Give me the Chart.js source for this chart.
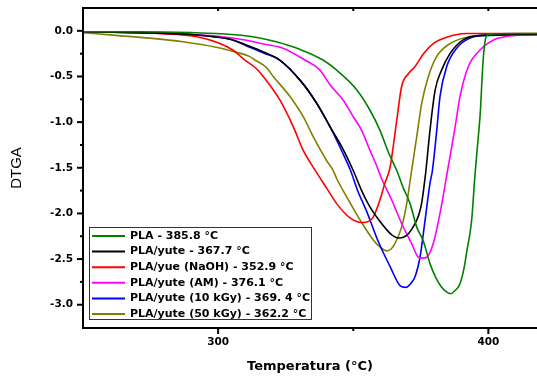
<!DOCTYPE html>
<html>
<head>
<meta charset="utf-8">
<script src="https://cdn.jsdelivr.net/npm/chart.js@4.4.0/dist/chart.umd.min.js"></script>
<style>
  html, body { margin: 0; padding: 0; background: #fff; }
  #wrap { width: 537px; height: 376px; }
</style>
</head>
<body>
<div id="wrap"><canvas id="dtga" width="537" height="376"></canvas></div>
<script>
// valores (temperatura en °C, DTGA)
const tempPLA = [250, 270, 290, 305, 314, 321.5, 330, 338.8, 345, 351.4, 356.2, 359.9, 363, 366.1, 368.5, 371, 373.5, 375.9, 378.4, 380.5, 382.5, 384.5, 386, 387.5, 389.5, 391, 392, 393.8, 395, 396, 397, 398, 399, 400, 410, 418];
const dtgPLA  = [-0.01, -0.01, -0.02, -0.04, -0.07, -0.12, -0.20, -0.32, -0.46, -0.65, -0.87, -1.09, -1.33, -1.53, -1.72, -1.89, -2.15, -2.30, -2.55, -2.70, -2.80, -2.86, -2.88, -2.85, -2.77, -2.60, -2.42, -2.08, -1.60, -1.25, -0.90, -0.35, -0.08, -0.04, -0.03, -0.03];

const tempYute = [250, 270, 290, 300, 305.4, 311.7, 316.6, 322.8, 330.3, 336.4, 341.4, 346.3, 350, 353.1, 356, 358.7, 362.4, 364.5, 366.7, 368.5, 369.8, 371.5, 372.9, 374.2, 375.3, 376.2, 376.9, 378.4, 380.3, 382.7, 385.8, 390.7, 397, 410, 418];
const dtgYute  = [-0.01, -0.02, -0.04, -0.07, -0.10, -0.17, -0.23, -0.32, -0.54, -0.79, -1.05, -1.30, -1.53, -1.75, -1.92, -2.04, -2.18, -2.24, -2.27, -2.26, -2.24, -2.18, -2.11, -2.02, -1.89, -1.70, -1.53, -1.09, -0.65, -0.43, -0.25, -0.10, -0.05, -0.04, -0.04];

const tempNaOH = [250, 270, 285, 293, 300, 305.4, 309.9, 314, 316.7, 322.9, 327.8, 331.5, 336.4, 340.1, 343.8, 348.8, 351.5, 353.7, 355.5, 357.4, 359.9, 361.7, 363.6, 366.1, 367.9, 370.4, 372.9, 376, 379.6, 384.6, 392, 418];
const dtgNaOH  = [-0.01, -0.02, -0.04, -0.07, -0.13, -0.21, -0.32, -0.41, -0.50, -0.76, -1.05, -1.31, -1.55, -1.72, -1.89, -2.05, -2.09, -2.10, -2.09, -2.04, -1.85, -1.67, -1.50, -0.98, -0.61, -0.47, -0.39, -0.25, -0.14, -0.07, -0.03, -0.03];

const tempAM = [250, 270, 290, 300, 310, 317.8, 324, 332.1, 337.7, 341.4, 346.3, 350, 353.1, 356.2, 358.7, 360.5, 364.2, 367.9, 371.6, 374.1, 375.5, 377.2, 379.6, 382.1, 384.9, 387.5, 389.5, 392.6, 396.9, 401.9, 410, 418];
const dtgAM  = [-0.01, -0.02, -0.04, -0.06, -0.10, -0.15, -0.19, -0.32, -0.43, -0.59, -0.76, -0.94, -1.09, -1.31, -1.48, -1.62, -1.85, -2.11, -2.33, -2.48, -2.49, -2.48, -2.33, -2.00, -1.53, -1.09, -0.72, -0.39, -0.21, -0.10, -0.05, -0.04];

const temp10 = [250, 270, 290, 300, 305.4, 311.7, 316.6, 322.8, 330.3, 336.4, 341.4, 345.5, 349, 351.5, 355, 359.3, 363.6, 367.3, 369.5, 371.2, 372.9, 374.7, 376.6, 378.4, 379.3, 380.9, 382.1, 384.6, 388.3, 393.2, 400, 418];
const dtg10  = [-0.01, -0.02, -0.04, -0.07, -0.10, -0.18, -0.24, -0.32, -0.54, -0.79, -1.05, -1.30, -1.53, -1.74, -1.98, -2.31, -2.58, -2.79, -2.81, -2.77, -2.69, -2.48, -2.07, -1.67, -1.53, -1.09, -0.72, -0.39, -0.19, -0.08, -0.05, -0.04];

const temp50 = [250, 262, 274.6, 287, 299.3, 306, 311.6, 313.6, 317.8, 320.4, 326.6, 331.5, 335.2, 340.1, 342.6, 343.9, 347.6, 352.5, 357.4, 360, 362.4, 364, 365.4, 367.9, 369.8, 371.6, 373.5, 375.3, 377.8, 380.9, 385.8, 392, 400, 418];
const dtg50  = [-0.02, -0.05, -0.08, -0.12, -0.18, -0.23, -0.28, -0.32, -0.40, -0.50, -0.72, -0.94, -1.16, -1.42, -1.53, -1.62, -1.82, -2.07, -2.29, -2.37, -2.41, -2.39, -2.33, -2.15, -1.89, -1.53, -1.16, -0.80, -0.50, -0.28, -0.14, -0.07, -0.05, -0.04];

const xTicks = [300, 350, 400];
const yTicks = [-3, -2.5, -2, -1.5, -1, -0.5, 0];
const yMinor = [-2.75, -2.25, -1.75, -1.25, -0.75, -0.25];

const series = [
  { label: 'PLA - 385.8 °C',               t: tempPLA,  v: dtgPLA,  color: '#008000' },
  { label: 'PLA/yute - 367.7 °C',          t: tempYute, v: dtgYute, color: '#000000' },
  { label: 'PLA/yue (NaOH) - 352.9 °C',    t: tempNaOH, v: dtgNaOH, color: '#ff0000' },
  { label: 'PLA/yute (AM) - 376.1 °C',     t: tempAM,   v: dtgAM,   color: '#ff00ff' },
  { label: 'PLA/yute (10 kGy) - 369. 4 °C', t: temp10,  v: dtg10,   color: '#0000ff' },
  { label: 'PLA/yute (50 kGy) - 362.2 °C', t: temp50,   v: dtg50,   color: '#808000' }
];

const fuenteBold = '"DejaVu Sans", sans-serif';

// marco, marcas de los ejes y leyenda
const marcoPlugin = {
  id: 'marco',
  afterDraw(chart) {
    const ctx = chart.ctx;
    const { left, right, top, bottom } = chart.chartArea;
    const sx = chart.scales.x, sy = chart.scales.y;

    const linea = (x1, y1, x2, y2) => {
      ctx.beginPath(); ctx.moveTo(x1, y1); ctx.lineTo(x2, y2); ctx.stroke();
    };

    ctx.save();
    ctx.strokeStyle = '#000';
    ctx.lineWidth = 2;
    linea(left, top, right, top);
    linea(left, top - 1, left, bottom + 1);
    linea(left - 1, bottom, right, bottom);

    yTicks.forEach(v => { const p = sy.getPixelForValue(v); linea(left - 6, p, left, p); });
    yMinor.forEach(v => { const p = sy.getPixelForValue(v); linea(left - 3, p, left, p); });
    xTicks.forEach(v => {
      const p = sx.getPixelForValue(v);
      linea(p, bottom, p, bottom + (v === 350 ? 3 : 6));
      linea(p, top, p, top + 3);
    });

    // leyenda
    const bx = 89.5, by = 227.5, bw = 222, bh = 92;
    ctx.fillStyle = '#fff';
    ctx.fillRect(bx, by, bw, bh);
    ctx.lineWidth = 1;
    ctx.strokeStyle = '#333';
    ctx.strokeRect(bx, by, bw, bh);

    ctx.font = 'bold 11px ' + fuenteBold;
    ctx.textBaseline = 'middle';
    ctx.textAlign = 'left';
    series.forEach((s, i) => {
      const yy = 236 + i * 15.6;
      ctx.strokeStyle = s.color;
      ctx.lineWidth = 2;
      linea(92, yy, 125, yy);
      ctx.fillStyle = '#000';
      ctx.fillText(s.label, 130, yy);
    });
    ctx.restore();
  }
};

const chart = new Chart(document.getElementById('dtga'), {
  type: 'line',
  data: {
    datasets: series.map(s => ({
      label: s.label,
      data: s.t.map((t, i) => ({ x: t, y: s.v[i] })),
      borderColor: s.color,
      backgroundColor: s.color,
      borderWidth: 1.6,
      pointRadius: 0,
      cubicInterpolationMode: 'monotone',
      fill: false
    }))
  },
  options: {
    responsive: false,
    animation: false,
    layout: { padding: { top: 8, right: 0, left: 0, bottom: 0 } },
    plugins: { legend: { display: false }, tooltip: { enabled: false } },
    scales: {
      x: {
        type: 'linear',
        min: 250,
        max: 418,
        afterBuildTicks: s => { s.ticks = xTicks.map(v => ({ value: v })); },
        afterFit: s => { s.height = 48; s.paddingLeft = 0; s.paddingRight = 0; },
        grid: { display: false, drawTicks: false },
        border: { display: false },
        ticks: {
          autoSkip: false, maxRotation: 0, padding: 8, color: '#000',
          font: { family: fuenteBold, weight: 'bold', size: 10.5 },
          callback: v => (v === 350 ? '' : v)
        },
        title: {
          display: true, text: 'Temperatura (°C)', color: '#000',
          font: { family: fuenteBold, weight: 'bold', size: 13 },
          padding: { top: 0, bottom: 2 }
        }
      },
      y: {
        min: -3.255,
        max: 0.25,
        afterBuildTicks: s => { s.ticks = yTicks.map(v => ({ value: v })); },
        afterFit: s => { s.width = 83; s.paddingTop = 0; s.paddingBottom = 0; },
        grid: { display: false, drawTicks: false },
        border: { display: false },
        ticks: {
          autoSkip: false, padding: 10, color: '#000',
          font: { family: fuenteBold, weight: 'bold', size: 10.5 },
          callback: v => v.toFixed(1)
        },
        title: {
          display: true, text: 'DTGA', color: '#000',
          font: { family: '"Liberation Sans", Arial, sans-serif', size: 15 },
          padding: { top: 8, bottom: 0 }
        }
      }
    }
  },
  plugins: [marcoPlugin]
});
</script>
</body>
</html>
